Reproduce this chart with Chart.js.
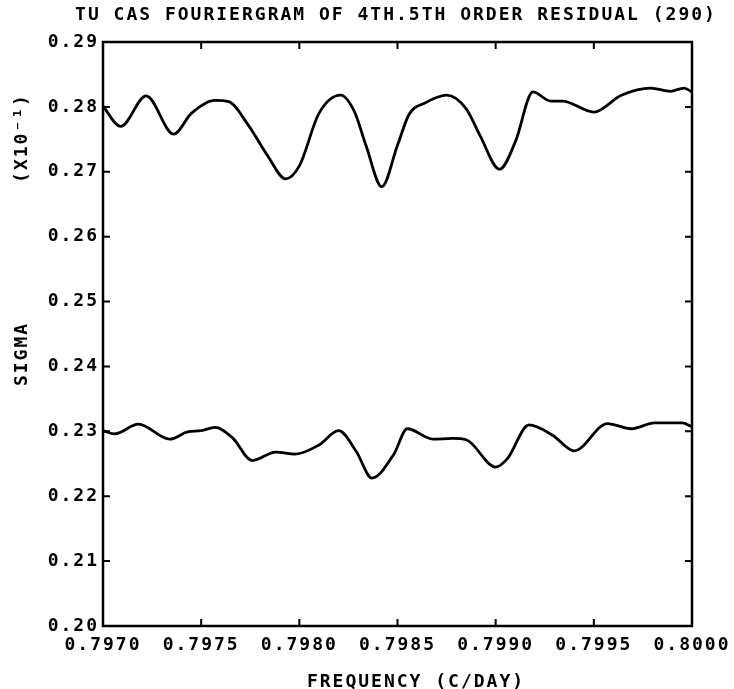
<!DOCTYPE html>
<html>
<head>
<meta charset="utf-8">
<script src="https://cdn.jsdelivr.net/npm/chart.js@4/dist/chart.umd.min.js"></script>
<style>
  html, body { margin: 0; padding: 0; background: #fff; }
  #wrap { width: 734px; height: 689px; }
</style>
</head>
<body>
<div id="wrap"><canvas id="c" width="734" height="689"></canvas></div>
<script>
// ---- data ----
const titleText = "TU CAS FOURIERGRAM OF 4TH.5TH ORDER RESIDUAL (290)";
const xTitle = "FREQUENCY (C/DAY)";
const yTitle = "SIGMA";
const yScaleNote = "(X10⁻¹)";

const freqUpper = [0.79700, 0.79709, 0.79722, 0.79736, 0.79745, 0.79757, 0.79764, 0.79774, 0.79784, 0.79793,
  0.79800, 0.79810, 0.79821, 0.79828, 0.79834, 0.79842, 0.79850, 0.79856, 0.79864, 0.79875,
  0.79885, 0.79892, 0.79902, 0.79910, 0.79919, 0.79928, 0.79934, 0.79950, 0.79964, 0.79979,
  0.79989, 0.79996, 0.80000];
const sigmaUpper = [0.2801, 0.2770, 0.2817, 0.2758, 0.2790, 0.2810, 0.2808, 0.2772, 0.2724, 0.2689,
  0.2709, 0.2790, 0.2818, 0.2793, 0.2740, 0.2677, 0.2741, 0.2789, 0.2806, 0.2818,
  0.2797, 0.2756, 0.2704, 0.2746, 0.2823, 0.2809, 0.2809, 0.2792, 0.2818, 0.2829,
  0.2824, 0.2829, 0.2823];

const freqLower = [0.79700, 0.79706, 0.79718, 0.79734, 0.79743, 0.79750, 0.79757, 0.79766, 0.79776, 0.79788,
  0.79798, 0.79810, 0.79820, 0.79829, 0.79837, 0.79848, 0.79855, 0.79868, 0.79878, 0.79885,
  0.79900, 0.79906, 0.79917, 0.79929, 0.79940, 0.79957, 0.79969, 0.79981, 0.79995, 0.80000];
const sigmaLower = [0.2301, 0.2296, 0.2311, 0.2288, 0.2299, 0.2301, 0.2306, 0.2290, 0.2255, 0.2268,
  0.2265, 0.2279, 0.2301, 0.2269, 0.2228, 0.2264, 0.2304, 0.2288, 0.2289, 0.2287,
  0.2245, 0.2258, 0.2310, 0.2294, 0.2270, 0.2312, 0.2304, 0.2313, 0.2313, 0.2307];

const xTicks = [0.7970, 0.7975, 0.7980, 0.7985, 0.7990, 0.7995, 0.8000];
const yTicks = [0.20, 0.21, 0.22, 0.23, 0.24, 0.25, 0.26, 0.27, 0.28, 0.29];

// ---- chart ----
const FONT = "'DejaVu Sans Mono', 'Liberation Mono', monospace";
const SPACING = '2px';
const toPts = (xs, ys) => xs.map((x, i) => ({ x: x, y: ys[i] }));

const framePlugin = {
  id: 'frame',
  beforeInit(chart) { chart.ctx.letterSpacing = SPACING; },
  beforeLayout(chart) { chart.ctx.letterSpacing = SPACING; },
  beforeDraw(chart) { chart.ctx.letterSpacing = SPACING; },
  afterDraw(chart) {
    const ctx = chart.ctx;
    const a = chart.chartArea;
    const xs = chart.scales.x, ys = chart.scales.y;
    ctx.save();
    ctx.strokeStyle = '#000';
    ctx.lineWidth = 2.5;
    ctx.strokeRect(a.left, a.top, a.right - a.left, a.bottom - a.top);
    ctx.lineWidth = 2;
    const L = 7;
    ctx.beginPath();
    xs.ticks.forEach(t => {
      const p = xs.getPixelForValue(t.value);
      ctx.moveTo(p, a.bottom); ctx.lineTo(p, a.bottom - L);
      ctx.moveTo(p, a.top); ctx.lineTo(p, a.top + L);
    });
    ys.ticks.forEach(t => {
      const p = ys.getPixelForValue(t.value);
      ctx.moveTo(a.left, p); ctx.lineTo(a.left + L, p);
      ctx.moveTo(a.right, p); ctx.lineTo(a.right - L, p);
    });
    ctx.stroke();

    ctx.fillStyle = '#000';
    ctx.letterSpacing = SPACING;
    ctx.font = "bold 18px " + FONT;
    ctx.textAlign = 'center';
    ctx.textBaseline = 'middle';
    ctx.fillText(titleText, 396, 15);
    ctx.fillText(xTitle, 416, 682);

    ctx.save();
    ctx.translate(22, 354);
    ctx.rotate(-Math.PI / 2);
    ctx.fillText(yTitle, 0, 0);
    ctx.restore();

    ctx.save();
    ctx.translate(22, 138);
    ctx.rotate(-Math.PI / 2);
    ctx.fillText(yScaleNote, 0, 0);
    ctx.restore();
    ctx.restore();
  }
};

new Chart(document.getElementById('c'), {
  type: 'line',
  data: {
    datasets: [
      { data: toPts(freqUpper, sigmaUpper), borderColor: '#000', borderWidth: 2.8, pointRadius: 0, cubicInterpolationMode: 'monotone', fill: false },
      { data: toPts(freqLower, sigmaLower), borderColor: '#000', borderWidth: 2.8, pointRadius: 0, cubicInterpolationMode: 'monotone', fill: false }
    ]
  },
  options: {
    responsive: false,
    animation: false,
    devicePixelRatio: 1,
    layout: { padding: { top: 42, right: 42, left: 0, bottom: 0 } },
    plugins: { legend: { display: false }, tooltip: { enabled: false }, title: { display: false } },
    scales: {
      x: {
        type: 'linear', min: 0.7970, max: 0.8000,
        afterBuildTicks: s => { s.ticks = xTicks.map(v => ({ value: v })); },
        afterFit: s => { s.height = 63; s.paddingLeft = 0; s.paddingRight = 0; },
        grid: { display: false, drawTicks: false },
        border: { display: false },
        ticks: { color: '#000', padding: 9, maxRotation: 0, autoSkip: false,
                 font: { family: FONT, size: 18, weight: 'bold' },
                 callback: v => v.toFixed(4) }
      },
      y: {
        type: 'linear', min: 0.20, max: 0.29,
        afterBuildTicks: s => { s.ticks = yTicks.map(v => ({ value: v })); },
        afterFit: s => { s.width = 103; s.paddingTop = 0; s.paddingBottom = 0; },
        grid: { display: false, drawTicks: false },
        border: { display: false },
        ticks: { color: '#000', padding: 4, autoSkip: false,
                 font: { family: FONT, size: 18, weight: 'bold' },
                 callback: v => v.toFixed(2) }
      }
    }
  },
  plugins: [framePlugin]
});
</script>
</body>
</html>
